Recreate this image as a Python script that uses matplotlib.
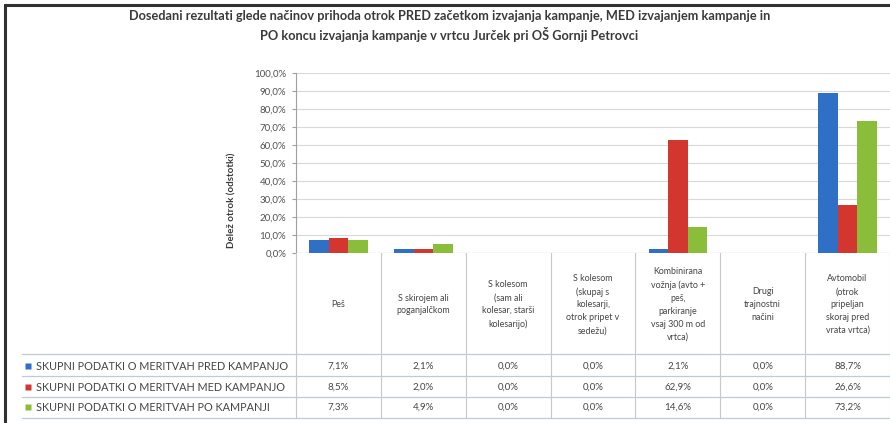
import matplotlib.pyplot as plt
import numpy as np
from matplotlib.patches import Rectangle

plt.rcParams['font.family'] = ['Lato', 'DejaVu Sans']

# data
title = ('Dosedani rezultati glede načinov prihoda otrok PRED začetkom izvajanja kampanje, '
         'MED izvajanjem kampanje in\nPO koncu izvajanja kampanje v vrtcu Jurček pri OŠ Gornji Petrovci')
y_label = 'Delež otrok (odstotki)'
categories = [
    'Peš',
    'S skirojem ali\npoganjalčkom',
    'S kolesom\n(sam ali\nkolesar, starši\nkolesarijo)',
    'S kolesom\n(skupaj s\nkolesarji,\notrok pripet v\nsedežu)',
    'Kombinirana\nvožnja (avto +\npeš,\nparkiranje\nvsaj 300 m od\nvrtca)',
    'Drugi\ntrajnostni\nnačini',
    'Avtomobil\n(otrok\npripeljan\nskoraj pred\nvrata vrtca)',
]
series_names = [
    'SKUPNI PODATKI O MERITVAH PRED KAMPANJO',
    'SKUPNI PODATKI O MERITVAH MED KAMPANJO',
    'SKUPNI PODATKI O MERITVAH PO KAMPANJI',
]
pred = [7.1, 2.1, 0.0, 0.0, 2.1, 0.0, 88.7]
med = [8.5, 2.0, 0.0, 0.0, 62.9, 0.0, 26.6]
po = [7.3, 4.9, 0.0, 0.0, 14.6, 0.0, 73.2]
colors = ['#2f6fc6', '#d3352f', '#8abd3a']
y_ticks = np.arange(0, 101, 10)

W, H = 890, 423
fig = plt.figure(figsize=(8.9, 4.23), dpi=100)


def box(x0, y0, x1, y1):
    # pixel box with top-left origin -> figure fraction
    return [x0 / W, 1 - y1 / H, (x1 - x0) / W, (y1 - y0) / H]


# outer frame
fig.patches.append(Rectangle((5 / W, -0.02), 1.1, 1 - 5 / H + 0.02, transform=fig.transFigure,
                             fill=False, edgecolor='#303030', lw=2.2))

fig.text(0.505, 1 - 26 / H, title, ha='center', va='center', fontsize=9.2,
         fontweight='bold', color='#3a3a3a', linespacing=1.4)

# bar chart
ax = fig.add_axes(box(296, 73, 890, 253))
x = np.arange(len(categories))
bw = 0.23
for i, (vals, c) in enumerate(zip([pred, med, po], colors)):
    ax.bar(x + (i - 1) * bw, vals, bw, color=c, zorder=3)
ax.set_xlim(-0.5, 6.5)
ax.set_ylim(0, 100)
ax.set_yticks(y_ticks)
ax.set_yticklabels(['{:.1f}%'.format(v).replace('.', ',') for v in y_ticks],
                   fontsize=7, color='#505050')
ax.set_xticks([])
ax.grid(axis='y', color='#d9d9d9', lw=0.8, zorder=0)
for s in ['top', 'right', 'bottom']:
    ax.spines[s].set_visible(False)
ax.spines['left'].set_color('#a0a0a0')
ax.tick_params(axis='y', length=3, color='#a0a0a0', pad=4)
ax.axhline(0, color='#a0a0a0', lw=0.8, zorder=4)
fig.text(232 / W, 1 - 200 / H, y_label, rotation=90, ha='center', va='center',
         fontsize=7, fontweight='bold', color='#3a3a3a')

# data table under the chart, same x units as the bars
tax = fig.add_axes(box(0, 253, 890, 423))
unit = (890 - 296) / 7
tax.set_xlim(-0.5 - 296 / unit, 6.5)
tax.set_ylim(423, 253)
tax.axis('off')
left = -0.5 - (296 - 22) / unit
for b in np.arange(-0.5, 7):
    tax.plot([b, b], [253, 418], color='#c8c8c8', lw=0.8)
for yy in [354, 376, 397, 418]:
    tax.plot([left, 6.5], [yy, yy], color='#bccbd8', lw=0.9)
for i, cat in enumerate(categories):
    tax.text(i, 304.5, cat, ha='center', va='center', fontsize=6.4,
             color='#454545', linespacing=1.55)
row_y = [366, 387, 407]
for r, (vals, name, c) in enumerate(zip([pred, med, po], series_names, colors)):
    tax.plot(left + 6 / unit, row_y[r], marker='s', ms=4.5, color=c, mec='none')
    tax.text(left + 14 / unit, row_y[r], name, ha='left', va='center',
             fontsize=7.8, color='#454545')
    for i, v in enumerate(vals):
        tax.text(i, row_y[r], '{:.1f}%'.format(v).replace('.', ','), ha='center',
                 va='center', fontsize=7, color='#454545')

fig.savefig('out.png', dpi=100)
